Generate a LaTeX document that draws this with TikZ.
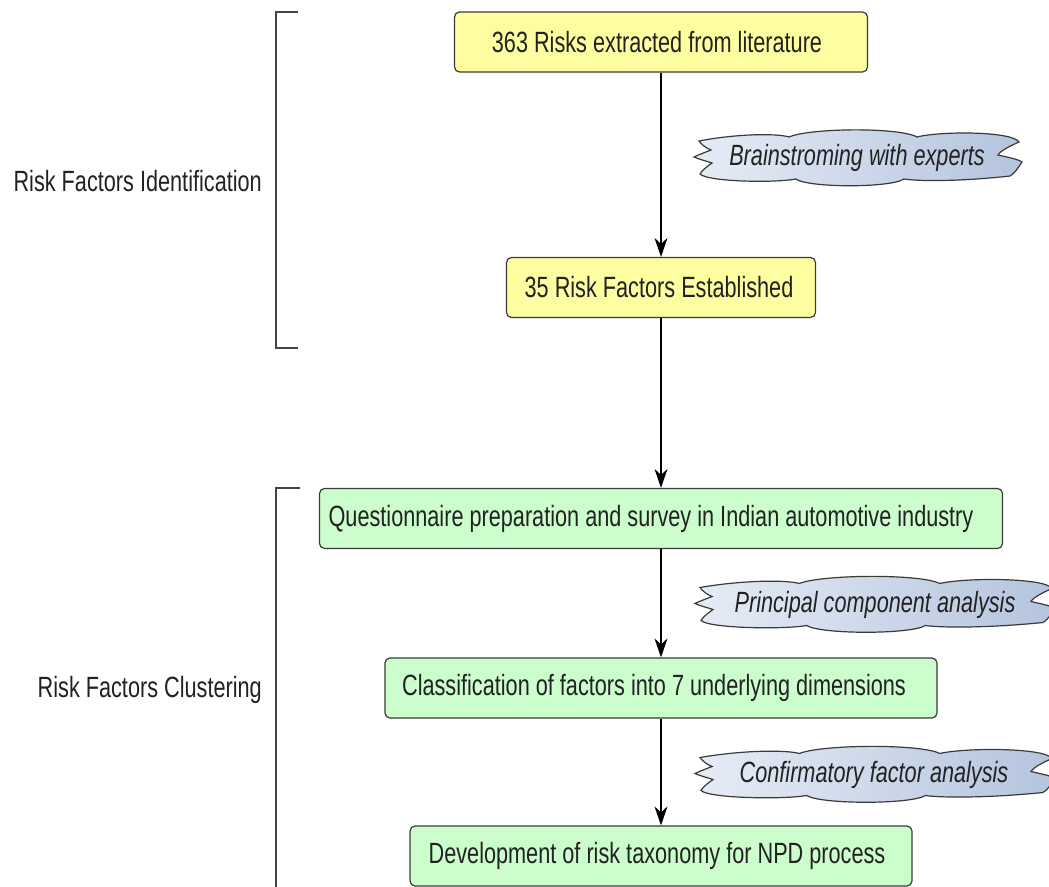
\documentclass[tikz,border=0pt]{standalone}
\usepackage{fontspec}
\setmainfont{Liberation Sans}[FakeStretch=0.74]
\usetikzlibrary{arrows.meta}

\definecolor{ybox}{HTML}{FEFEA0}
\definecolor{gbox}{HTML}{CCFDCC}
\definecolor{edge}{HTML}{3A3A3A}
\definecolor{txt}{HTML}{222222}
\definecolor{brk}{HTML}{444444}
\definecolor{cloudL}{HTML}{E6ECF6}
\definecolor{cloudR}{HTML}{B4C4DD}

\tikzset{
  bigfont/.style={font=\fontsize{29.3}{32}\selectfont},
  stepbox/.style={draw=edge, line width=1.2pt, rounded corners=5pt,
    minimum height=60pt, inner sep=0pt, bigfont, text=txt},
  yellowbox/.style={stepbox, fill=ybox},
  greenbox/.style={stepbox, fill=gbox},
  % moves the label of a box to the left by #1
  nudge/.style={execute at begin node={\hspace*{-#1}\hspace*{-#1}}},
  flow/.style={-{Stealth[length=19pt,width=13pt,inset=6pt]}, line width=1.1pt, draw=black},
  phase/.style={draw=brk, line width=1.6pt},
  phaselabel/.style={anchor=east, bigfont, text=txt, inner sep=0pt},
  cloudtext/.style={bigfont, text=txt, inner sep=0pt},
  cloudbody/.style={draw=edge, line width=1.2pt, left color=cloudL, right color=cloudR},
}

% wavy cloud outline centred at (#1,#2) with half width #3
\newcommand\cloudpath[3]{%
  \begin{scope}[shift={(#1,#2)}]
    \def\W{#3}
    \path[cloudbody]
      ({-\W+5},-17)
      .. controls ({-0.75*\W},-24) and ({-0.5*\W},-25) .. ({-0.42*\W},-21)
      .. controls ({-0.3*\W},-30) and ({0.25*\W},-31) .. ({0.36*\W},-21)
      .. controls ({0.5*\W},-27) and ({\W-10},-27) .. ({\W-3},-16)
      .. controls ({\W-12},-12) and ({\W-22},-7) .. ({\W-24},-3)
      .. controls ({\W-16},-1) and ({\W-4},1) .. ({\W},4)
      .. controls ({\W-4},10) and ({\W-8},16) .. ({\W-12},18)
      .. controls ({0.6*\W},24) and ({0.35*\W},23) .. ({0.28*\W},21)
      .. controls ({0.2*\W},30) and ({-0.3*\W},30) .. ({-0.38*\W},21)
      .. controls ({-0.5*\W},25) and ({-\W+14},24) .. ({-\W+6},16)
      .. controls ({-\W+8},12) and ({-\W+14},8) .. ({-\W+18},5)
      .. controls ({-\W+12},3) and ({-\W+4},1) .. ({-\W},-1)
      .. controls ({-\W+4},-3) and ({-\W+12},-6) .. ({-\W+17},-8)
      .. controls ({-\W+12},-10) and ({-\W+8},-13) .. ({-\W+5},-17)
      -- cycle;
  \end{scope}}

\begin{document}
\begin{tikzpicture}[x=1pt,y=-1pt]
  \useasboundingbox (0,0) rectangle (1049,886);
  \clip (0,0) rectangle (1049,886);

  % phase brackets and their labels
  \draw[phase] (298,12) -- (276,12) -- (276,348) -- (298,348);
  \node[phaselabel] (ident) at (262,181) {Risk Factors Identification};
  \draw[phase] (300,488) -- (276,488) -- (276,895);
  \node[phaselabel] (clust) at (262,690) {Risk Factors Clustering};

  % process steps
  \node[yellowbox, minimum width=413pt, nudge=4pt] (lit) at (661,42) {363 Risks extracted from literature};
  \node[yellowbox, minimum width=309pt, nudge=2pt] (est) at (661,287.5) {35 Risk Factors Established};
  \node[greenbox, minimum width=683pt, nudge=10pt] (survey) at (661,518.5) {Questionnaire preparation and survey in Indian automotive industry};
  \node[greenbox, minimum width=552pt, nudge=7pt] (classif) at (661,688) {Classification of factors into 7 underlying dimensions};
  \node[greenbox, minimum width=502pt, nudge=4pt] (taxo) at (661,856) {Development of risk taxonomy for NPD process};

  % connectors
  \draw[flow] (lit.south) -- (est.north);
  \draw[flow] (est.south) -- (survey.north);
  \draw[flow] (survey.south) -- (classif.north);
  \draw[flow] (classif.south) -- (taxo.north);

  % method clouds beside the connectors
  \cloudpath{858}{158}{164}
  \node[cloudtext] (brain) at (857,158) {\itshape Brainstroming with experts};
  \cloudpath{875}{604.5}{180}
  \node[cloudtext] (pca) at (875,604.5) {\itshape Principal component analysis};
  \cloudpath{875}{774.5}{180}
  \node[cloudtext] (cfa) at (874,774.5) {\itshape Confirmatory factor analysis};
\end{tikzpicture}
\end{document}
